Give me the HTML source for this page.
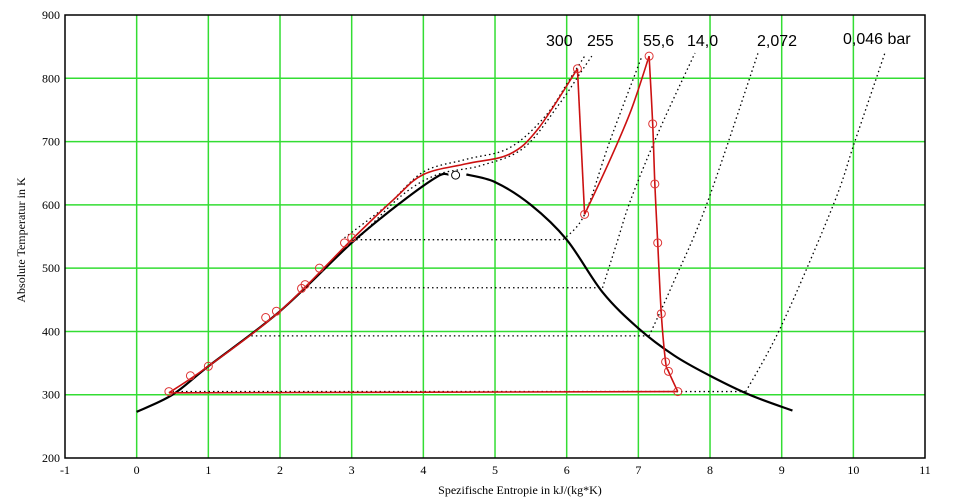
<!DOCTYPE html>
<html><head><meta charset="utf-8"><style>
body{margin:0;background:#fff;width:960px;height:504px;overflow:hidden}
svg{display:block}
.t{font-family:"Liberation Serif",serif;font-size:12px;fill:#000}
.l{font-family:"Liberation Sans",sans-serif;font-size:16px;fill:#000}
</style></head><body>
<svg id="s" width="960" height="504" xmlns="http://www.w3.org/2000/svg">
<g id="grid"></g>
<rect x="65" y="15" width="860" height="443" fill="none" stroke="#000" stroke-width="1.5"/>
<g id="curves"></g>
<text class="t" x="520" y="494" text-anchor="middle">Spezifische Entropie in kJ/(kg*K)</text>
<text class="t" transform="translate(25,240) rotate(-90)" text-anchor="middle">Absolute Temperatur in K</text>
<text class="l" x="546" y="46">300</text>
<text class="l" x="587" y="46">255</text>
<text class="l" x="643" y="46">55,6</text>
<text class="l" x="687" y="46">14,0</text>
<text class="l" x="757" y="46">2,072</text>
<text class="l" x="843" y="44">0,046 bar</text>
</svg>
<script>
const X=s=>65+71.67*(s+1), Y=T=>15+(900-T)*0.6329;
const NS="http://www.w3.org/2000/svg";
const g=document.getElementById('grid'), c=document.getElementById('curves');
function el(p,tag,a){const e=document.createElementNS(NS,tag);for(const k in a)e.setAttribute(k,a[k]);p.appendChild(e);return e;}
for(let s=-1;s<=11;s++){ if(s>-1&&s<11) el(g,'line',{x1:X(s),x2:X(s),y1:15,y2:458,stroke:'#33dd33','stroke-width':1.5});
 el(g,'text',{x:X(s),y:474,'text-anchor':'middle',class:'t'}).textContent=s;}
for(let T=200;T<=900;T+=100){ if(T>200&&T<900) el(g,'line',{x1:65,x2:925,y1:Y(T),y2:Y(T),stroke:'#33dd33','stroke-width':1.5});
 el(g,'text',{x:60,y:Y(T)+4,'text-anchor':'end',class:'t'}).textContent=T;}
function path(pts,attrs,smooth=true){
 const P=pts.map(p=>[X(p[0]),Y(p[1])]);let d='M'+P[0];
 if(!smooth){for(let i=1;i<P.length;i++)d+='L'+P[i];}
 else for(let i=0;i<P.length-1;i++){const p0=P[i-1]||P[i],p1=P[i],p2=P[i+1],p3=P[i+2]||p2;
  d+='C'+[p1[0]+(p2[0]-p0[0])/6,p1[1]+(p2[1]-p0[1])/6]+' '+[p2[0]-(p3[0]-p1[0])/6,p2[1]-(p3[1]-p1[1])/6]+' '+p2;}
 el(c,'path',Object.assign({d:d,fill:'none'},attrs));}
const dot={stroke:'#000','stroke-width':1.3,'stroke-dasharray':'1.5 3'};
[[3,5.95,545],[2.3,6.5,469],[1.6,7.15,393],[0.5,8.5,305]].forEach(h=>path([[h[0],h[2]],[h[1],h[2]]],dot,false));
path([[5.95,545],[6.25,585],[6.6,700],[7.05,835]],dot);
path([[6.5,469],[6.7,540],[6.9,610],[7.3,720],[7.79,840]],dot);
path([[7.15,393],[7.5,480],[7.96,603],[8.67,840]],dot);
path([[8.5,305],[9.0,410],[9.72,600],[10.02,700],[10.44,840]],dot);
path([[2.9,548],[3.5,600],[4,652],[4.6,672],[5.2,690],[5.7,740],[6.05,800],[6.25,835]],dot);
path([[3.1,548],[3.7,615],[4.2,648],[4.8,662],[5.4,690],[5.9,760],[6.2,810],[6.35,835]],dot);
path([[0,273],[0.5,300],[1,345],[2,432],[3,540],[3.7,605],[4.2,645],[4.35,648]],{stroke:'#000','stroke-width':2.2});
path([[4.6,648],[5.0,636],[5.5,600],[6,545],[6.5,462],[7,405],[7.5,362],[8,330],[8.55,300],[9.15,275]],{stroke:'#000','stroke-width':2.2});
el(c,'circle',{cx:X(4.45),cy:Y(647),r:4,fill:'none',stroke:'#000'});
const red={stroke:'#cc1111','stroke-width':1.6};
path([[0.45,303],[1,345],[2,432],[3,545],[3.6,610],[4,648],[4.6,665],[5.2,680],[5.6,720],[6.15,815]],red);
path([[6.15,815],[6.25,585]],red,false);
path([[6.25,585],[6.6,670],[6.9,750],[7.15,835]],red);
path([[7.15,835],[7.2,728],[7.23,633],[7.27,540],[7.32,428],[7.38,352],[7.42,337],[7.55,305]],red);
path([[7.55,305],[0.45,303]],red,false);
[[0.45,305],[0.75,330],[1,345],[1.8,422],[1.95,432],[2.3,468],[2.35,474],[2.55,500],[2.9,540],[3,548],[6.15,815],[6.25,585],[7.15,835],[7.2,728],[7.23,633],[7.27,540],[7.32,428],[7.38,352],[7.42,337],[7.55,305]].forEach(p=>
 el(c,'circle',{cx:X(p[0]),cy:Y(p[1]),r:4,fill:'none',stroke:'#dd3333','stroke-width':1}));
</script>
</body></html>
